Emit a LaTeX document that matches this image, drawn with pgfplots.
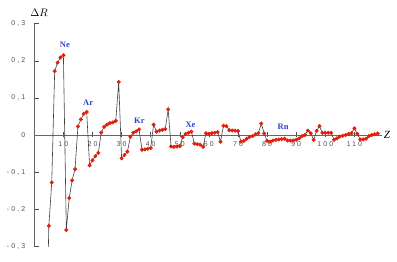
\documentclass[border=0pt]{standalone}
\usepackage{fontspec}
\setmainfont{Liberation Serif}
\newfontfamily\ticksf[LetterSpace=30]{Liberation Sans}
\usepackage{pgfplots}
\pgfplotsset{compat=1.18}
\definecolor{dotred}{HTML}{E0200F}
\definecolor{elblue}{HTML}{3340CC}
\definecolor{linegray}{HTML}{404040}
\definecolor{ticktext}{HTML}{505050}
\pgfplotstableread{
Z dR
4 -0.60
5 -0.245
6 -0.128
7 0.172
8 0.195
9 0.209
10 0.215
11 -0.256
12 -0.170
13 -0.122
14 -0.092
15 0.023
16 0.042
17 0.057
18 0.062
19 -0.082
20 -0.068
21 -0.057
22 -0.048
23 0.007
24 0.022
25 0.028
26 0.032
27 0.034
28 0.038
29 0.143
30 -0.063
31 -0.054
32 -0.045
33 -0.005
34 0.006
35 0.010
36 0.015
37 -0.040
38 -0.039
39 -0.037
40 -0.035
41 0.028
42 0.009
43 0.012
44 0.014
45 0.016
46 0.069
47 -0.031
48 -0.032
49 -0.031
50 -0.030
51 -0.006
52 0.003
53 0.006
54 0.009
55 -0.023
56 -0.025
57 -0.026
58 -0.032
59 0.005
60 0.003
61 0.005
62 0.006
63 0.008
64 -0.018
65 0.025
66 0.024
67 0.013
68 0.012
69 0.012
70 0.011
71 -0.018
72 -0.016
73 -0.010
74 -0.005
75 -0.003
76 0.002
77 0.005
78 0.031
79 0.004
80 -0.016
81 -0.018
82 -0.015
83 -0.013
84 -0.012
85 -0.011
86 -0.010
87 -0.015
88 -0.015
89 -0.015
90 -0.013
91 -0.009
92 -0.003
93 0.000
94 0.012
95 0.005
96 -0.013
97 0.011
98 0.024
99 0.006
100 0.006
101 0.006
102 0.006
103 -0.013
104 -0.009
105 -0.004
106 -0.002
107 0.000
108 0.003
109 0.005
110 0.018
111 0.003
112 -0.012
113 -0.012
114 -0.010
115 -0.003
116 0.000
117 0.002
118 0.004
}\dRtable
\begin{document}
\begin{tikzpicture}
\useasboundingbox (0,0) rectangle (397bp,262bp);
\begin{axis}[
  at={(34.3bp,127bp)}, anchor=origin,
  x=2.91bp, y=371bp,
  xmin=0, xmax=119.5, ymin=-0.3, ymax=0.3,
  axis lines=middle,
  axis line style={draw=black!60, line width=0.6bp, -},
  xtick={10,20,30,40,50,60,70,80,90,100,110},
  xticklabels={10,20,30,40,50,60,70,80,90,100,110},
  ytick={-0.3,-0.2,-0.1,0,0.1,0.2,0.3},
  yticklabels={{-0,3},{-0,2},{-0,1},0,{0,1},{0,2},{0,3}},
  hide obscured y ticks=false,
  hide obscured x ticks=false,
  major tick length=5bp,
  x tick style={draw=black!70, line width=0.5bp},
  y tick style={draw=black!70, line width=0.5bp, xshift=2.2bp},
  ticklabel style={font=\ticksf\fontsize{7}{8}\selectfont, text=ticktext},
  xticklabel style={yshift=-1bp},
  yticklabel style={xshift=-3bp},
  clip mode=individual,
]
\addplot[color=linegray, line width=0.6bp, mark=*, mark size=1.7bp,
  mark options={draw=dotred, fill=dotred}] table[x=Z, y=dR] {\dRtable};
\node[elblue, font=\bfseries\fontsize{8.5}{9}\selectfont] at (axis cs:10.5,0.243) {Ne};
\node[elblue, font=\bfseries\fontsize{8.5}{9}\selectfont] at (axis cs:18.5,0.086) {Ar};
\node[elblue, font=\bfseries\fontsize{8.5}{9}\selectfont] at (axis cs:36.1,0.038) {Kr};
\node[elblue, font=\bfseries\fontsize{8.5}{9}\selectfont] at (axis cs:53.7,0.027) {Xe};
\node[elblue, font=\bfseries\fontsize{8.5}{9}\selectfont] at (axis cs:85.5,0.022) {Rn};
\end{axis}
\node[font=\fontsize{10.5}{12}\selectfont] at (39bp,249bp) {$\Delta R$};
\node[font=\itshape\fontsize{11}{12}\selectfont] at (387bp,127bp) {Z};
\end{tikzpicture}
\end{document}
